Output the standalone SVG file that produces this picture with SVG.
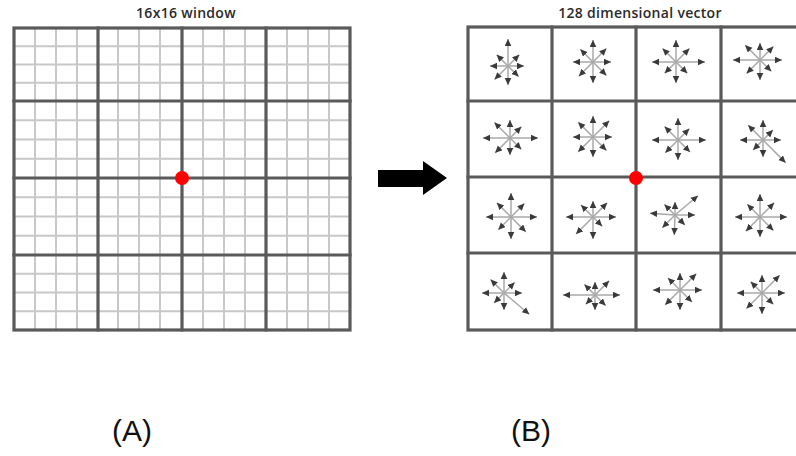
<svg xmlns="http://www.w3.org/2000/svg" width="796" height="456" viewBox="0 0 796 456">
  <defs>
    <style>
      .title { font-family: "Open Sans", "DejaVu Sans", sans-serif; font-size: 14px; font-weight: 600; letter-spacing: 0.3px; fill: #2a2a2a; text-anchor: middle; }
      .label { font-family: "Liberation Sans", Arial, sans-serif; font-size: 30px; fill: #111; text-anchor: middle; }
      .minor { stroke: #c8c8c8; stroke-width: 2; fill: none; }
      .major { stroke: #5a5a5a; stroke-width: 3.2; fill: none; stroke-linecap: square; }
      .vec line { stroke: #a8a8a8; stroke-width: 1.5; marker-end: url(#head); }
    </style>
    <marker id="head" markerUnits="userSpaceOnUse" markerWidth="8" markerHeight="8" refX="7" refY="3.5" orient="auto">
      <path d="M0,0.2 L7,3.5 L0,6.8 Z" fill="#3a3a3a"/>
    </marker>
  </defs>

  <rect width="796" height="456" fill="#ffffff"/>

  <!-- (A) 16x16 window -->
  <g id="window-grid">
    <text class="title" x="186" y="18">16x16 window</text>
    <g class="minor">
      <!-- vertical sub-lines -->
      <path d="M35,28V330M56,28V330M77,28V330
               M118,28V330M139,28V330M160,28V330
               M203,28V330M224,28V330M245,28V330
               M287,28V330M308,28V330M329,28V330"/>
      <!-- horizontal sub-lines -->
      <path d="M14,46.3H350M14,64.5H350M14,82.8H350
               M14,120.3H350M14,139.5H350M14,158.8H350
               M14,197.3H350M14,216.5H350M14,235.8H350
               M14,273.8H350M14,292.5H350M14,311.3H350"/>
    </g>
    <g class="major">
      <rect x="14" y="28" width="336" height="302"/>
      <path d="M98,28V330M182,28V330M266,28V330M14,101H350M14,178H350M14,255H350"/>
    </g>
    <circle cx="182" cy="178" r="7" fill="#ff0000"/>
  </g>

  <!-- (B) 128 dimensional vector -->
  <g id="descriptor-grid">
    <text class="title" x="640" y="18">128 dimensional vector</text>
    <g class="major">
      <rect x="468" y="27" width="337" height="303"/>
      <path d="M552,27V330M636,27V330M721,27V330M468,101H805M468,177H805M468,253H805"/>
    </g>
  </g>

  <!-- orientation histograms: arrows E, NE, N, NW, W, SW, S, SE -->
  <g id="cell-r1c1" class="vec" transform="translate(508,66)">
    <line x2="16"/><line x2="16" transform="rotate(-45)"/><line x2="27" transform="rotate(-90)"/><line x2="16" transform="rotate(-135)"/>
    <line x2="18" transform="rotate(180)"/><line x2="19" transform="rotate(135)"/><line x2="19" transform="rotate(90)"/><line x2="15" transform="rotate(45)"/>
  </g>
  <g id="cell-r1c2" class="vec" transform="translate(593,62)">
    <line x2="18"/><line x2="19" transform="rotate(-45)"/><line x2="22" transform="rotate(-90)"/><line x2="18" transform="rotate(-135)"/>
    <line x2="20" transform="rotate(180)"/><line x2="20" transform="rotate(135)"/><line x2="21" transform="rotate(90)"/><line x2="19" transform="rotate(45)"/>
  </g>
  <g id="cell-r1c3" class="vec" transform="translate(676,62)">
    <line x2="29"/><line x2="19" transform="rotate(-45)"/><line x2="22" transform="rotate(-90)"/><line x2="19" transform="rotate(-135)"/>
    <line x2="24" transform="rotate(180)"/><line x2="16" transform="rotate(135)"/><line x2="21" transform="rotate(90)"/><line x2="16" transform="rotate(45)"/>
  </g>
  <g id="cell-r1c4" class="vec" transform="translate(760,60)">
    <line x2="22"/><line x2="19" transform="rotate(-45)"/><line x2="17" transform="rotate(-90)"/><line x2="21" transform="rotate(-135)"/>
    <line x2="27" transform="rotate(180)"/><line x2="19" transform="rotate(135)"/><line x2="20" transform="rotate(90)"/><line x2="16" transform="rotate(45)"/>
  </g>

  <g id="cell-r2c1" class="vec" transform="translate(510,138)">
    <line x2="28"/><line x2="16" transform="rotate(-45)"/><line x2="18" transform="rotate(-90)"/><line x2="22" transform="rotate(-135)"/>
    <line x2="27" transform="rotate(180)"/><line x2="21" transform="rotate(135)"/><line x2="17" transform="rotate(90)"/><line x2="16" transform="rotate(45)"/>
  </g>
  <g id="cell-r2c2" class="vec" transform="translate(593,137)">
    <line x2="19"/><line x2="23" transform="rotate(-45)"/><line x2="21" transform="rotate(-90)"/><line x2="21" transform="rotate(-135)"/>
    <line x2="20" transform="rotate(180)"/><line x2="21" transform="rotate(135)"/><line x2="20" transform="rotate(90)"/><line x2="19" transform="rotate(45)"/>
  </g>
  <g id="cell-r2c3" class="vec" transform="translate(678,140)">
    <line x2="28"/><line x2="16" transform="rotate(-45)"/><line x2="22" transform="rotate(-90)"/><line x2="19" transform="rotate(-135)"/>
    <line x2="26" transform="rotate(180)"/><line x2="18" transform="rotate(135)"/><line x2="20" transform="rotate(90)"/><line x2="17" transform="rotate(45)"/>
  </g>
  <g id="cell-r2c4" class="vec" transform="translate(763,140)">
    <line x2="18"/><line x2="14" transform="rotate(-45)"/><line x2="20" transform="rotate(-90)"/><line x2="21" transform="rotate(-135)"/>
    <line x2="23" transform="rotate(180)"/><line x2="14" transform="rotate(135)"/><line x2="17" transform="rotate(90)"/><line x2="32" transform="rotate(45)"/>
  </g>

  <g id="cell-r3c1" class="vec" transform="translate(511,217)">
    <line x2="26"/><line x2="19" transform="rotate(-45)"/><line x2="24" transform="rotate(-90)"/><line x2="20" transform="rotate(-135)"/>
    <line x2="25" transform="rotate(180)"/><line x2="18" transform="rotate(135)"/><line x2="22" transform="rotate(90)"/><line x2="21" transform="rotate(45)"/>
  </g>
  <g id="cell-r3c2" class="vec" transform="translate(593,217)">
    <line x2="23"/><line x2="20" transform="rotate(-45)"/><line x2="16" transform="rotate(-90)"/><line x2="17" transform="rotate(-135)"/>
    <line x2="27" transform="rotate(180)"/><line x2="24" transform="rotate(135)"/><line x2="22" transform="rotate(90)"/><line x2="13" transform="rotate(45)"/>
  </g>
  <g id="cell-r3c3" class="vec" transform="translate(675,215)">
    <line x2="20"/><line x2="30" transform="rotate(-40)"/><line x2="13" transform="rotate(-90)"/><line x2="15" transform="rotate(-135)"/>
    <line x2="25" transform="rotate(184)"/><line x2="18" transform="rotate(135)"/><line x2="20" transform="rotate(92)"/><line x2="14" transform="rotate(45)"/>
  </g>
  <g id="cell-r3c4" class="vec" transform="translate(760,217)">
    <line x2="27"/><line x2="20" transform="rotate(-45)"/><line x2="23" transform="rotate(-90)"/><line x2="18" transform="rotate(-135)"/>
    <line x2="25" transform="rotate(180)"/><line x2="20" transform="rotate(135)"/><line x2="20" transform="rotate(90)"/><line x2="19" transform="rotate(45)"/>
  </g>

  <g id="cell-r4c1" class="vec" transform="translate(504,293)">
    <line x2="18"/><line x2="15" transform="rotate(-45)"/><line x2="21" transform="rotate(-90)"/><line x2="19" transform="rotate(-135)"/>
    <line x2="22" transform="rotate(180)"/><line x2="14" transform="rotate(135)"/><line x2="17" transform="rotate(90)"/><line x2="33" transform="rotate(40)"/>
  </g>
  <g id="cell-r4c2" class="vec" transform="translate(595,295)">
    <line x2="25"/><line x2="20" transform="rotate(-45)"/><line x2="13" transform="rotate(-90)"/><line x2="15" transform="rotate(-135)"/>
    <line x2="32" transform="rotate(180)"/><line x2="13" transform="rotate(135)"/><line x2="15" transform="rotate(90)"/><line x2="15" transform="rotate(45)"/>
  </g>
  <g id="cell-r4c3" class="vec" transform="translate(680,290)">
    <line x2="22"/><line x2="23" transform="rotate(-45)"/><line x2="17" transform="rotate(-90)"/><line x2="17" transform="rotate(-135)"/>
    <line x2="27" transform="rotate(180)"/><line x2="21" transform="rotate(135)"/><line x2="20" transform="rotate(90)"/><line x2="17" transform="rotate(45)"/>
  </g>
  <g id="cell-r4c4" class="vec" transform="translate(762,293)">
    <line x2="23"/><line x2="25" transform="rotate(-45)"/><line x2="18" transform="rotate(-90)"/><line x2="16" transform="rotate(-135)"/>
    <line x2="25" transform="rotate(180)"/><line x2="22" transform="rotate(135)"/><line x2="21" transform="rotate(90)"/><line x2="16" transform="rotate(45)"/>
  </g>

  <circle id="keypoint" cx="636" cy="178" r="7" fill="#ff0000"/>

  <!-- block arrow from window to descriptor -->
  <g id="connectors">
    <polygon points="378,170 423,170 423,161 447,178 423,195 423,187 378,187" fill="#000000"/>
  </g>

  <g id="captions">
    <text class="label" x="132" y="441">(A)</text>
    <text class="label" x="531" y="441">(B)</text>
  </g>
</svg>
